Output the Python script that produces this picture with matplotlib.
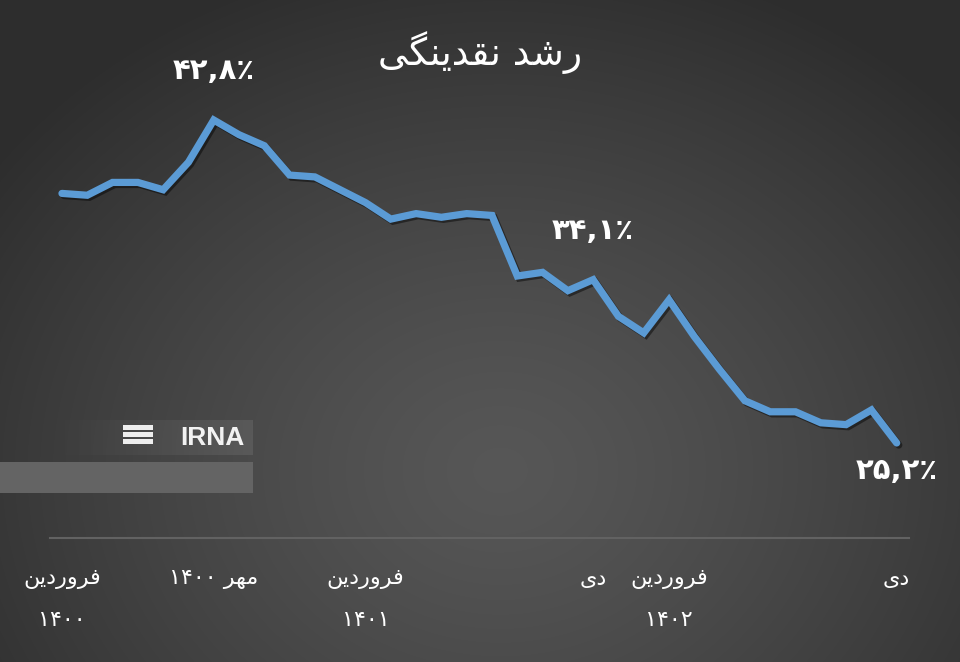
import matplotlib
matplotlib.use("Agg")
import matplotlib.pyplot as plt
import matplotlib.patheffects as pe
import numpy as np

plt.rcParams['font.family'] = ['DejaVu Sans']

# monthly liquidity growth (%), farvardin 1400 .. dey 1402
growth = [38.8, 38.7, 39.4, 39.4, 39.0, 40.5, 42.8, 42.0, 41.4, 39.8,
          39.7, 39.0, 38.3, 37.4, 37.7, 37.5, 37.7, 37.6, 34.3, 34.5,
          33.5, 34.1, 32.1, 31.2, 33.0, 31.0, 29.2, 27.5, 26.9, 26.9,
          26.3, 26.2, 27.0, 25.2]
months = np.arange(len(growth))

title = "رشد نقدینگی"
tick_pos = [0, 6, 12, 21, 24, 33]
tick_text = ["فروردین\n۱۴۰۰", "مهر ۱۴۰۰", "فروردین\n۱۴۰۱", "دی", "فروردین\n۱۴۰۲", "دی"]
labelled = [6, 21, 33]

# presentation forms: isolated, final, initial, medial
FORMS = {
    'ر': ('\uFEAD', '\uFEAE', None, None),
    'د': ('\uFEA9', '\uFEAA', None, None),
    'و': ('\uFEED', '\uFEEE', None, None),
    'ش': ('\uFEB5', '\uFEB6', '\uFEB7', '\uFEB8'),
    'ن': ('\uFEE5', '\uFEE6', '\uFEE7', '\uFEE8'),
    'ق': ('\uFED5', '\uFED6', '\uFED7', '\uFED8'),
    'ی': ('\uFBFC', '\uFBFD', '\uFBFE', '\uFBFF'),
    'گ': ('\uFB92', '\uFB93', '\uFB94', '\uFB95'),
    'ف': ('\uFED1', '\uFED2', '\uFED3', '\uFED4'),
    'م': ('\uFEE1', '\uFEE2', '\uFEE3', '\uFEE4'),
    'ه': ('\uFEE9', '\uFEEA', '\uFEEB', '\uFEEC'),
}


def shape_word(w):
    if not any(c in FORMS for c in w):
        return w
    out = []
    for i, c in enumerate(w):
        f = FORMS[c]
        prev_joins = i > 0 and FORMS[w[i - 1]][2] is not None
        next_joins = i < len(w) - 1 and f[2] is not None
        if prev_joins and next_joins:
            out.append(f[3])
        elif prev_joins:
            out.append(f[1])
        elif next_joins:
            out.append(f[2])
        else:
            out.append(f[0])
    return "".join(reversed(out))


def fa(text):
    lines = []
    for line in text.split("\n"):
        words = [shape_word(w) for w in line.split(" ")]
        lines.append(" ".join(reversed(words)))
    return "\n".join(lines)


def fa_num(v):
    s = f"{v:.1f}".replace(".", ",")
    return s.translate(str.maketrans("0123456789", "۰۱۲۳۴۵۶۷۸۹")) + "٪"


fig = plt.figure(figsize=(9.6, 6.62), dpi=100)

# radial gradient background
bg = fig.add_axes([0, 0, 1, 1])
yy, xx = np.mgrid[0:662, 0:960]
d = np.sqrt(((xx - 500) / 620.0) ** 2 + ((yy - 470) / 520.0) ** 2)
shade = 0.34 - 0.16 * np.clip(d, 0, 1) ** 1.3
bg.imshow(np.dstack([shade] * 3), aspect='auto', extent=[0, 960, 662, 0])
bg.set_xlim(0, 960)
bg.set_ylim(662, 0)
bg.axis('off')

# IRNA watermark
band = np.linspace(0, 1, 200) ** 1.5
bg.imshow(np.dstack([np.full((1, 200), 0.36)] * 3 + [band[None, :] * 0.9]),
          aspect='auto', extent=[40, 253, 455, 420])
bg.add_patch(plt.Rectangle((0, 462), 253, 31, color='#646464', lw=0))
for k in range(3):
    bg.add_patch(plt.Rectangle((123, 425 + k * 7), 30, 5, color='#eeeeee', lw=0))
bg.text(245, 438, "IRNA", color='#f2f2f2', fontsize=19, fontweight='bold',
        ha='right', va='center', family='Liberation Sans')
bg.set_xlim(0, 960)
bg.set_ylim(662, 0)

ax = fig.add_axes([0.0382, 0.1867, 0.9222, 0.7207])
ax.patch.set_alpha(0)
ax.plot(months, growth, color='#5b9bd5', lw=5.2, solid_joinstyle='miter',
        solid_capstyle='round',
        path_effects=[pe.SimpleLineShadow(offset=(1.5, -1.5), shadow_color='black', alpha=0.45),
                      pe.Normal()])
ax.set_xlim(-1, 34)
ax.set_ylim(20, 46)
for s in ax.spines.values():
    s.set_visible(False)
ax.axhline(20, xmin=0.015, xmax=0.985, color='#626262', lw=1.5, clip_on=False)
ax.set_yticks([])
ax.set_xticks(tick_pos)
ax.set_xticklabels([fa(t) for t in tick_text], color='white', fontsize=16,
                   linespacing=2.3)
ax.tick_params(axis='x', length=0, pad=22)

for i in labelled:
    dy = -20 if i == len(growth) - 1 else 35
    ax.annotate(fa_num(growth[i]), (months[i], growth[i]), xytext=(0, dy),
                textcoords='offset points', ha='center', va='center',
                color='white', fontsize=21, fontweight='bold')

fig.text(0.5, 0.921, fa(title), color='white', fontsize=27, ha='center', va='center')

fig.savefig("out.png", dpi=100)
